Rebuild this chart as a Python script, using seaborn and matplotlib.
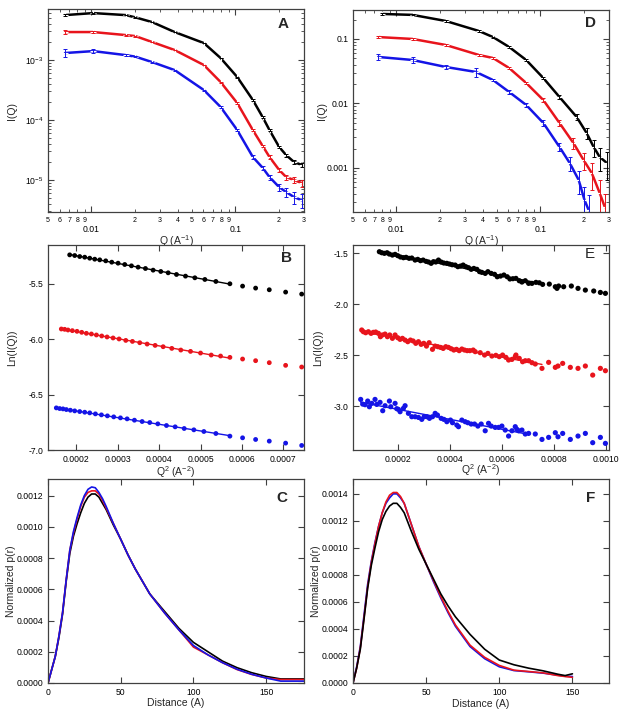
import numpy as np
import matplotlib
matplotlib.use("Agg")
import matplotlib.pyplot as plt
import matplotlib.ticker as mticker
import seaborn as sns

#### values

## A: I(Q) vs Q (log-log)
qA = [0.00655, 0.0103, 0.0173, 0.0202, 0.0264, 0.0379, 0.0605, 0.0791, 0.1032, 0.1325, 0.155, 0.173, 0.202, 0.226, 0.256, 0.290]
iA_black = [0.00562, 0.00607, 0.00562, 0.00515, 0.0043, 0.00293, 0.00192, 0.00108, 0.000521, 0.000216, 0.000112, 6.8e-5, 3.55e-5, 2.6e-5, 2.0e-5, 1.78e-5]
iA_red = [0.00293, 0.00293, 0.00261, 0.00251, 0.0020, 0.00147, 0.000826, 0.00043, 0.000192, 6.8e-5, 3.7e-5, 2.42e-5, 1.47e-5, 1.12e-5, 1.0e-5, 8.9e-6]
iA_blue = [0.00131, 0.00141, 0.00121, 0.00114, 0.000926, 0.00068, 0.000316, 0.000165, 6.8e-5, 2.42e-5, 1.6e-5, 1.12e-5, 7.6e-6, 6.3e-6, 5.2e-6, 4.6e-6]
# relative error bars
eA_black = [0.03, 0.02, 0.01, 0.01, 0.01, 0.01, 0.01, 0.01, 0.02, 0.02, 0.03, 0.04, 0.05, 0.06, 0.07, 0.08]
eA_red = [0.08, 0.04, 0.02, 0.02, 0.01, 0.01, 0.01, 0.02, 0.03, 0.04, 0.05, 0.06, 0.08, 0.10, 0.12, 0.14]
eA_blue = [0.15, 0.08, 0.03, 0.03, 0.02, 0.02, 0.02, 0.03, 0.04, 0.06, 0.08, 0.10, 0.14, 0.18, 0.22, 0.26]

## D: I(Q) vs Q (log-log)
qD_black = [0.00798, 0.01294, 0.0220, 0.0374, 0.0469, 0.0607, 0.0798, 0.105, 0.136, 0.179, 0.210, 0.235, 0.259, 0.290]
iD_black = [0.244, 0.236, 0.190, 0.133, 0.107, 0.0752, 0.0472, 0.0248, 0.0126, 0.00618, 0.00349, 0.00212, 0.00148, 0.00120]
eD_black = [0.02, 0.02, 0.02, 0.02, 0.02, 0.02, 0.03, 0.04, 0.06, 0.10, 0.20, 0.30, 0.40, 0.45]
qD_red = [0.00748, 0.01294, 0.0220, 0.0374, 0.0469, 0.0607, 0.0798, 0.105, 0.136, 0.170, 0.200, 0.228, 0.259, 0.281]
iD_red = [0.107, 0.100, 0.0807, 0.0565, 0.0507, 0.0355, 0.0208, 0.0113, 0.00499, 0.00244, 0.00133, 0.000836, 0.000409, 0.000248]
eD_red = [0.04, 0.04, 0.04, 0.05, 0.03, 0.03, 0.05, 0.07, 0.10, 0.18, 0.30, 0.45, 0.60, 0.60]
qD_blue = [0.00748, 0.01294, 0.0220, 0.0357, 0.0469, 0.0607, 0.0798, 0.105, 0.136, 0.160, 0.185, 0.203, 0.217]
iD_blue = [0.0526, 0.0472, 0.0368, 0.0308, 0.0231, 0.0151, 0.00948, 0.00499, 0.00212, 0.00120, 0.000652, 0.000319, 0.000223]
eD_blue = [0.10, 0.10, 0.08, 0.15, 0.05, 0.06, 0.08, 0.10, 0.15, 0.25, 0.40, 0.60, 0.70]

## B: Guinier plot, Q^2 in units of 1e-4
q2B_black = [1.839, 1.960, 2.081, 2.202, 2.323, 2.444, 2.565, 2.710, 2.855, 3.008, 3.169, 3.331, 3.492, 3.669, 3.855, 4.040, 4.218, 4.419, 4.637, 4.863, 5.105, 5.371, 5.710, 6.016, 6.331, 6.661, 7.056, 7.444]
lnB_black = [-5.239, -5.245, -5.254, -5.260, -5.269, -5.278, -5.284, -5.293, -5.305, -5.314, -5.326, -5.338, -5.350, -5.362, -5.377, -5.389, -5.401, -5.416, -5.431, -5.446, -5.461, -5.479, -5.500, -5.521, -5.539, -5.554, -5.575, -5.593]
q2B_red = [1.637, 1.718, 1.798, 1.903, 2.016, 2.129, 2.242, 2.363, 2.484, 2.613, 2.742, 2.887, 3.032, 3.194, 3.355, 3.532, 3.710, 3.903, 4.097, 4.306, 4.524, 4.758, 5.000, 5.258, 5.484, 5.710, 6.016, 6.331, 6.661, 7.056, 7.444]
lnB_red = [-5.908, -5.911, -5.917, -5.923, -5.929, -5.938, -5.947, -5.953, -5.962, -5.971, -5.980, -5.989, -5.998, -6.011, -6.020, -6.032, -6.044, -6.056, -6.068, -6.083, -6.098, -6.110, -6.125, -6.143, -6.152, -6.164, -6.179, -6.194, -6.212, -6.236, -6.251]
q2B_blue = [1.516, 1.597, 1.677, 1.758, 1.855, 1.960, 2.081, 2.202, 2.323, 2.460, 2.605, 2.750, 2.903, 3.065, 3.226, 3.403, 3.589, 3.774, 3.968, 4.177, 4.387, 4.605, 4.839, 5.081, 5.371, 5.710, 6.016, 6.331, 6.661, 7.056, 7.444]
lnB_blue = [-6.620, -6.626, -6.629, -6.635, -6.641, -6.647, -6.653, -6.659, -6.665, -6.674, -6.683, -6.692, -6.701, -6.710, -6.719, -6.731, -6.743, -6.752, -6.764, -6.779, -6.791, -6.806, -6.818, -6.833, -6.851, -6.875, -6.890, -6.905, -6.920, -6.938, -6.959]
fitmaxB = 5.72  # last Q^2 (1e-4) in the Guinier fit

## E: Guinier plot, Q^2 in units of 1e-4
q2E_black = [1.281, 1.373, 1.474, 1.577, 1.665, 1.781, 1.885, 1.987, 2.090, 2.205, 2.308, 2.423, 2.526, 2.654, 2.756, 2.859, 2.962, 3.077, 3.167, 3.269, 3.359, 3.449, 3.551, 3.654, 3.756, 3.872, 3.974, 4.077, 4.192, 4.295, 4.397, 4.500, 4.603, 4.705, 4.808, 4.910, 5.026, 5.128,
             5.218, 5.346, 5.449, 5.577, 5.705, 5.808, 5.936, 6.064, 6.192, 6.295, 6.410, 6.526, 6.654, 6.756, 6.885, 7.013, 7.141, 7.295, 7.423, 7.551, 7.808, 8.038, 8.103, 8.167, 8.359, 8.654, 8.910, 9.192, 9.513, 9.769, 9.962]
lnE_black = [-1.484, -1.494, -1.500, -1.494, -1.507, -1.517, -1.510, -1.523, -1.536, -1.543, -1.539, -1.549, -1.546, -1.566, -1.559, -1.572, -1.566, -1.579, -1.585, -1.598, -1.582, -1.585, -1.566, -1.585, -1.595, -1.598, -1.605, -1.612, -1.615, -1.631, -1.625, -1.615, -1.631, -1.641, -1.657, -1.648, -1.657, -1.680,
             -1.687, -1.697, -1.680, -1.697, -1.706, -1.730, -1.723, -1.713, -1.730, -1.752, -1.749, -1.746, -1.769, -1.782, -1.769, -1.795, -1.795, -1.785, -1.789, -1.805, -1.802, -1.828, -1.844, -1.821, -1.828, -1.821, -1.844, -1.861, -1.870, -1.884, -1.893]
q2E_red = [0.603, 0.667, 0.756, 0.859, 0.962, 1.051, 1.141, 1.244, 1.321, 1.397, 1.500, 1.590, 1.679, 1.782, 1.885, 1.987, 2.077, 2.167, 2.269, 2.372, 2.474, 2.577, 2.679, 2.782, 2.885, 2.987, 3.090, 3.192, 3.321, 3.423, 3.526, 3.628, 3.731, 3.833, 3.936, 4.038, 4.141, 4.244, 4.346, 4.449, 4.551, 4.654, 4.756, 4.885,
           4.962, 5.154, 5.321, 5.449, 5.603, 5.756, 5.885, 6.013, 6.141, 6.244, 6.372, 6.500, 6.526, 6.654, 6.782, 6.885, 7.013, 7.141, 7.269, 7.526, 7.782, 8.038, 8.141, 8.321, 8.615, 8.910, 9.192, 9.474, 9.769, 9.962]
lnE_red = [-2.253, -2.270, -2.280, -2.270, -2.286, -2.276, -2.273, -2.286, -2.319, -2.302, -2.293, -2.319, -2.302, -2.335, -2.302, -2.329, -2.345, -2.335, -2.352, -2.368, -2.352, -2.361, -2.384, -2.368, -2.394, -2.384, -2.411, -2.378, -2.443, -2.411, -2.417, -2.424, -2.434, -2.417, -2.424, -2.437, -2.450, -2.443, -2.456, -2.440, -2.450, -2.456, -2.456, -2.450,
           -2.466, -2.476, -2.499, -2.483, -2.509, -2.502, -2.515, -2.499, -2.522, -2.548, -2.542, -2.515, -2.499, -2.532, -2.565, -2.555, -2.555, -2.574, -2.587, -2.630, -2.571, -2.620, -2.607, -2.581, -2.620, -2.630, -2.607, -2.696, -2.630, -2.653]
q2E_blue = [0.564, 0.641, 0.731, 0.833, 0.897, 0.987, 1.115, 1.179, 1.308, 1.410, 1.500, 1.667, 1.718, 1.885, 1.949, 2.013, 2.077, 2.205, 2.269, 2.397, 2.526, 2.654, 2.782, 2.910, 3.000, 3.103, 3.205, 3.321, 3.423, 3.513, 3.654, 3.756, 3.872, 4.013, 4.090, 4.256, 4.321, 4.449, 4.577, 4.679, 4.808, 4.936,
            5.064, 5.192, 5.346, 5.474, 5.577, 5.731, 5.859, 5.987, 6.115, 6.244, 6.372, 6.500, 6.564, 6.628, 6.756, 6.885, 7.013, 7.269, 7.526, 7.782, 8.038, 8.141, 8.321, 8.615, 8.910, 9.192, 9.474, 9.769, 9.962]
lnE_blue = [-2.935, -2.981, -2.987, -2.951, -3.007, -2.974, -2.935, -2.984, -2.964, -3.046, -2.997, -2.951, -3.007, -2.974, -3.026, -3.033, -3.056, -3.023, -2.997, -3.072, -3.105, -3.105, -3.112, -3.131, -3.105, -3.105, -3.121, -3.105, -3.072, -3.089, -3.121, -3.131, -3.154, -3.138, -3.164, -3.187, -3.203, -3.138, -3.154, -3.164, -3.177, -3.177,
            -3.197, -3.177, -3.243, -3.170, -3.197, -3.210, -3.210, -3.197, -3.236, -3.295, -3.243, -3.203, -3.229, -3.243, -3.236, -3.275, -3.269, -3.275, -3.328, -3.308, -3.262, -3.302, -3.269, -3.328, -3.295, -3.269, -3.360, -3.308, -3.367]
fitmaxE = {"black": 7.56, "red": 7.56, "blue": 7.15}

## C: normalized p(r)
rC = [0, 5, 7.5, 10, 12.5, 15, 17.5, 20, 22.5, 25, 27.5, 30, 32.5, 35, 37.5, 40, 45, 50, 55, 60, 70, 80, 90, 100, 110, 120, 130, 140, 150, 160, 176]
pC_black = [0, 0.00017, 0.00029, 0.00044, 0.00065, 0.00083, 0.00094, 0.00102, 0.00109, 0.00115, 0.00119, 0.00121, 0.00121, 0.00119, 0.00115, 0.00111, 0.00101, 0.00092, 0.00082, 0.00073, 0.00057, 0.00046, 0.00035, 0.00026, 0.00020, 0.00014, 0.000098, 0.000066, 0.000042, 0.000026, 0.000026]
pC_red = [0, 0.00017, 0.00030, 0.00045, 0.00066, 0.00085, 0.00096, 0.00105, 0.00113, 0.00119, 0.00122, 0.00123, 0.00123, 0.00121, 0.00117, 0.00112, 0.00102, 0.00092, 0.00082, 0.00073, 0.00057, 0.00045, 0.00034, 0.00023, 0.00018, 0.00013, 0.000086, 0.000055, 0.000032, 0.000022, 0.000022]
pC_blue = [0, 0.00017, 0.00030, 0.00045, 0.00066, 0.00085, 0.00097, 0.00106, 0.00114, 0.00120, 0.00124, 0.001255, 0.00125, 0.00122, 0.00118, 0.00113, 0.00102, 0.00092, 0.00082, 0.00073, 0.00057, 0.00045, 0.00034, 0.00024, 0.00018, 0.00013, 0.000088, 0.000056, 0.000032, 0.000012, 0.000012]

## F: normalized p(r)
rF = [0, 2.5, 5, 7.5, 10, 12.5, 15, 17.5, 20, 22.5, 25, 27.5, 30, 32.5, 35, 40, 45, 50, 55, 60, 65, 70, 80, 90, 100, 110, 120, 130, 140, 145, 150]
pF_black = [0, 0.00011, 0.00025, 0.00047, 0.00070, 0.00087, 0.00100, 0.00112, 0.00121, 0.00127, 0.00131, 0.00133, 0.00133, 0.00130, 0.00126, 0.00112, 0.00099, 0.00088, 0.00077, 0.00066, 0.00057, 0.00049, 0.00036, 0.00025, 0.00017, 0.000135, 0.00011, 0.00009, 0.000065, 0.000055, 0.000068]
pF_red = [0, 0.00011, 0.00026, 0.00048, 0.00071, 0.00089, 0.00103, 0.00116, 0.00126, 0.00134, 0.00139, 0.00141, 0.00141, 0.00138, 0.00133, 0.00117, 0.00101, 0.00088, 0.00076, 0.00064, 0.00053, 0.00043, 0.00028, 0.00019, 0.00013, 0.000095, 0.000085, 0.000075, 0.000055, 0.000048, 0.000042]
pF_blue = [0, 0.00012, 0.00027, 0.00050, 0.00073, 0.00090, 0.00104, 0.00116, 0.00126, 0.00133, 0.00137, 0.00140, 0.00140, 0.00137, 0.00133, 0.00117, 0.00101, 0.00088, 0.00075, 0.00063, 0.00052, 0.00042, 0.00027, 0.00018, 0.00012, 0.000092, 0.000083, 0.000073, 0.000058, 0.00005, 0.000048]

colors = {"black": "#000000", "red": "#e8141c", "blue": "#1414e6"}

#### style
sns.set_style("ticks")
plt.rcParams["font.family"] = ["Liberation Sans", "DejaVu Sans"]
plt.rcParams["axes.unicode_minus"] = False
plt.rcParams["mathtext.default"] = "regular"

fig = plt.figure(figsize=(6.24, 7.14), dpi=100)
W, H = 624.0, 714.0


def make_ax(x0, y0, x1, y1):
    # pixel box -> figure fraction
    return fig.add_axes([x0 / W, 1 - y1 / H, (x1 - x0) / W, (y1 - y0) / H])


axA = make_ax(48, 9, 304, 212)
axD = make_ax(353, 10, 609, 212)
axB = make_ax(48, 245, 304, 450)
axE = make_ax(353, 245, 609, 450)
axC = make_ax(48, 479, 304, 683)
axF = make_ax(353, 479, 609, 683)


def frame(ax):
    for s in ax.spines.values():
        s.set_color("#404040")
        s.set_linewidth(0.9)
    ax.tick_params(which="both", direction="in", top=True, right=True, colors="#404040", labelcolor="black")
    ax.tick_params(which="major", length=4, width=0.8, labelsize=6.2)
    ax.tick_params(which="minor", length=2, width=0.6, labelsize=5)


def minor_digit(v, pos):
    return "%d" % round(v / 10 ** np.floor(np.log10(v) + 1e-9))


### 1. SAXS curves (A, D)
for ax, sets in [(axA, [(qA, iA_black, eA_black, "black"), (qA, iA_red, eA_red, "red"), (qA, iA_blue, eA_blue, "blue")]),
                 (axD, [(qD_black, iD_black, eD_black, "black"), (qD_red, iD_red, eD_red, "red"), (qD_blue, iD_blue, eD_blue, "blue")])]:
    ax.set_xscale("log")
    ax.set_yscale("log")
    for q, i, e, c in sets:
        q = np.array(q)
        i = np.array(i)
        sns.lineplot(x=q, y=i, ax=ax, color=colors[c], lw=1.8, marker="+", markersize=4, mew=0.8)
        ax.errorbar(q, i, yerr=i * np.array(e), fmt="none", ecolor=colors[c], elinewidth=0.7, capsize=1.5, capthick=0.7)
    ax.set_xlim(0.00499, 0.3005)
    ax.xaxis.set_major_locator(mticker.LogLocator(base=10))
    ax.xaxis.set_minor_locator(mticker.LogLocator(base=10, subs=np.arange(2, 10)))
    ax.xaxis.set_major_formatter(mticker.FuncFormatter(lambda v, p: "%g" % v))
    ax.xaxis.set_minor_formatter(mticker.FuncFormatter(minor_digit))
    ax.yaxis.set_minor_locator(mticker.LogLocator(base=10, subs=np.arange(2, 10)))
    ax.yaxis.set_minor_formatter(mticker.NullFormatter())
    frame(ax)
    ax.tick_params(axis="x", which="major", pad=9)

axA.set_ylim(2.93e-6, 7.1e-3)
axD.set_ylim(0.000208, 0.281)
axD.yaxis.set_major_formatter(mticker.FuncFormatter(lambda v, p: "%g" % v))
for ax in (axA, axD):
    ax.set_xlabel("Q (A$^{-1}$)", fontsize=7.5)
    ax.set_ylabel("I(Q)", fontsize=7.5)

### 2. Guinier plots (B, E)
for ax, sets, fitmax, size in [(axB, [(q2B_black, lnB_black, "black"), (q2B_red, lnB_red, "red"), (q2B_blue, lnB_blue, "blue")], {"black": fitmaxB, "red": fitmaxB, "blue": fitmaxB}, 12),
                               (axE, [(q2E_black, lnE_black, "black"), (q2E_red, lnE_red, "red"), (q2E_blue, lnE_blue, "blue")], fitmaxE, 14)]:
    for q2, ln, c in sets:
        q2 = np.array(q2)
        ln = np.array(ln)
        sns.scatterplot(x=q2 * 1e-4, y=ln, ax=ax, color=colors[c], s=size, edgecolor="none", linewidth=0)
        keep = q2 <= fitmax[c]
        sns.regplot(x=q2[keep] * 1e-4, y=ln[keep], ax=ax, scatter=False, ci=None, truncate=True,
                    color=colors[c], line_kws={"lw": 1.0})
    ax.yaxis.set_major_locator(mticker.MultipleLocator(0.5))
    ax.yaxis.set_major_formatter(mticker.FormatStrFormatter("%.1f"))
    ax.xaxis.set_major_formatter(mticker.FormatStrFormatter("%.4f"))
    ax.set_ylabel("Ln(I(Q))", fontsize=7.5)
    frame(ax)

axB.set_xlim(0.0001315, 0.000750)
axB.set_ylim(-7.0, -5.15)
axB.xaxis.set_major_locator(mticker.MultipleLocator(0.0001))
axB.set_xlabel("Q$^2$ (A$^{-2}$)", fontsize=7.5)
axE.set_xlim(0.0000269, 0.00101)
axE.set_ylim(-3.432, -1.418)
axE.xaxis.set_major_locator(mticker.MultipleLocator(0.0002))
axE.set_xlabel("Q$^2$ (A$^{-2}$)", fontsize=7.5)

### 3. Pair distance distributions (C, F)
for ax, r, curves in [(axC, rC, [(pC_black, "black"), (pC_red, "red"), (pC_blue, "blue")]),
                      (axF, rF, [(pF_blue, "blue"), (pF_red, "red"), (pF_black, "black")])]:
    for p, c in curves:
        sns.lineplot(x=r, y=p, ax=ax, color=colors[c], lw=1.2)
    ax.xaxis.set_major_locator(mticker.MultipleLocator(50))
    ax.yaxis.set_major_locator(mticker.MultipleLocator(0.0002))
    ax.yaxis.set_major_formatter(mticker.FormatStrFormatter("%.4f"))
    ax.set_xlabel("Distance (A)", fontsize=7.5)
    ax.set_ylabel("Normalized p(r)", fontsize=7.5)
    frame(ax)

axC.set_xlim(0, 176)
axC.set_ylim(0, 0.001306)
axF.set_xlim(0, 175)
axF.set_ylim(0, 0.00151)

### label placement and panel letters
for ax, xl, yl in [(axA, -0.105, -0.12), (axD, -0.105, -0.10), (axB, -0.07, -0.12),
                   (axE, -0.06, -0.115), (axC, -0.075, -0.125), (axF, -0.08, -0.125)]:
    ax.xaxis.set_label_coords(0.5, xl)
    ax.yaxis.set_label_coords(yl, 0.5)

for ax, letter, x, y, wt in [(axA, "A", 0.918, 0.926, "bold"), (axD, "D", 0.926, 0.935, "bold"),
                             (axB, "B", 0.93, 0.937, "bold"), (axE, "E", 0.926, 0.955, "normal"),
                             (axC, "C", 0.914, 0.907, "bold"), (axF, "F", 0.93, 0.907, "bold")]:
    ax.text(x, y, letter, transform=ax.transAxes, fontsize=11, fontweight=wt, ha="center", va="center")

fig.savefig("out.png", dpi=100)
